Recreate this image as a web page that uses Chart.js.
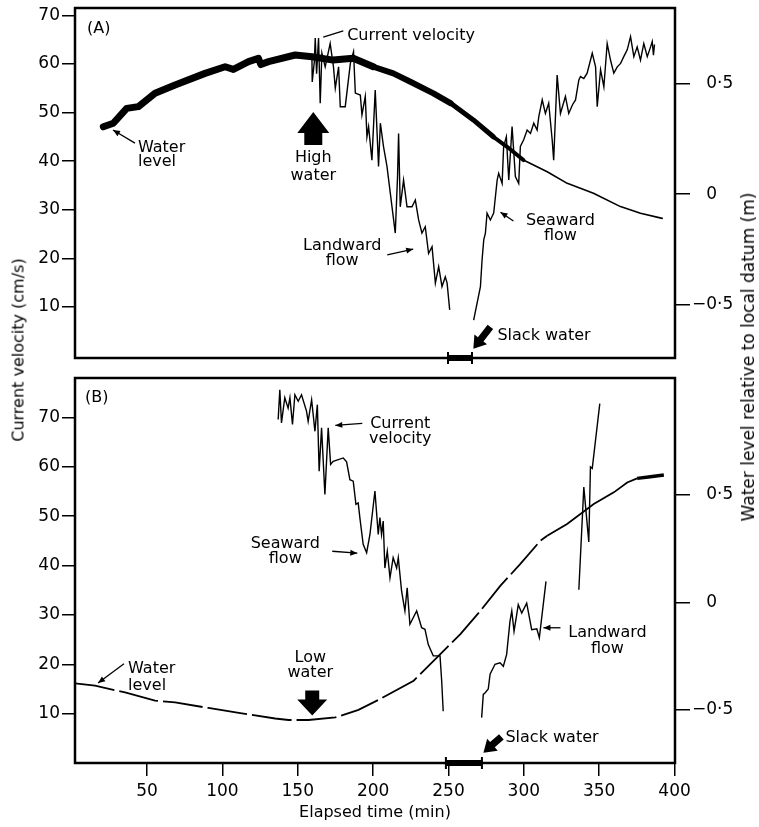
<!DOCTYPE html>
<html><head><meta charset="utf-8">
<script src="https://cdn.jsdelivr.net/npm/chart.js"></script>
<style>
html,body{margin:0;padding:0;background:#fff;}
#wrap{position:relative;width:759px;height:827px;overflow:hidden;font-family:"DejaVu Sans",sans-serif;color:#000;}
.pane{position:absolute;left:0;width:759px;}
.vt{position:absolute;white-space:nowrap;transform:translate(-50%,-50%) rotate(-90deg);}
</style></head><body>
<div id="wrap">
<div class="pane" style="top:0;height:370px"><canvas id="chartA"></canvas></div>
<div class="pane" style="top:368px;height:459px"><canvas id="chartB"></canvas></div>
<div class="vt" style="left:18px;top:350px;font-size:16px">Current velocity (cm/s)</div>
<div class="vt" style="left:748px;top:357px;font-size:17px">Water level relative to local datum (m)</div>
</div>
<script>
// ---------- DATA ----------
// Panel A: water level (m), thick trace
const levelA_t = [21.0,27.6,36.5,44.2,55.3,68.6,88.5,101.8,107.3,117.3,123.9,125.5,130.6,148.3,159.4,173.5,186.8,200.1,213.4,224.7,240.0,251.3,266.5,279.8,288.9,299.7,315.5,328.8,346.2,364.1,377.4,391.8];
const levelA_m = [0.304,0.320,0.387,0.395,0.455,0.493,0.545,0.575,0.563,0.598,0.613,0.585,0.598,0.628,0.620,0.605,0.613,0.575,0.545,0.507,0.455,0.411,0.335,0.259,0.214,0.154,0.101,0.049,0.004,-0.056,-0.086,-0.109];
// Panel A: current velocity (cm/s), landward flow
const velA_land_t = [159.4,159.6,161.0,161.6,162.5,163.8,164.9,166.0,168.2,171.5,173.7,174.9,177.1,178.2,181.5,184.9,187.0,188.2,191.5,192.6,194.8,195.9,197.0,199.2,201.4,203.6,204.8,206.9,209.2,211.4,214.7,216.2,216.9,218.0,220.2,222.5,225.8,228.0,230.2,232.4,234.6,236.8,239.1,241.3,243.5,245.7,247.9,249.1,250.8];
const velA_land_v = [61.5,56.3,60.5,65.3,58.0,65.3,51.9,62.2,59.4,64.2,59.4,55.0,59.4,51.2,51.2,60.1,62.5,54.0,53.6,49.5,53.3,45.0,47.1,40.2,54.6,38.9,47.8,43.0,38.9,33.4,25.2,36.8,45.7,30.6,36.1,30.6,30.6,32.0,27.9,25.2,26.5,21.0,22.4,14.9,18.3,14.2,16.2,14.9,9.4];
// Panel A: current velocity (cm/s), seaward flow
const velA_sea_t = [266.7,271.2,272.3,273.4,274.5,275.6,277.8,280.0,282.3,283.3,285.6,286.6,288.4,290.0,292.2,294.4,296.6,297.7,299.9,302.2,304.4,306.6,308.8,309.9,312.2,314.3,316.5,318.8,319.8,322.1,324.3,327.6,329.8,332.3,334.3,336.5,337.6,339.8,342.0,345.4,347.6,348.7,350.9,353.1,355.3,357.5,359.7,362.0,364.2,366.3,368.6,370.8,373.0,375.2,377.4,379.6,381.9,384.1,385.2,386.0,386.7];
const velA_sea_v = [7.3,14.2,19.7,23.8,25.2,29.3,27.9,29.3,36.1,37.5,35.4,43.0,45.0,36.1,47.1,36.8,35.4,43.0,44.4,46.4,45.7,47.8,46.4,49.1,52.6,49.8,51.9,44.4,40.2,57.7,49.8,53.3,49.8,51.6,52.6,56.7,57.4,57.0,58.1,62.2,59.4,51.2,58.8,55.3,64.2,60.8,58.1,59.4,60.1,61.5,62.9,65.6,61.5,63.5,60.8,64.2,61.5,63.5,64.6,61.8,64.0];
// Panel B: water level (m)
const levelB_t = [2.2,15.5,35.4,55.3,68.6,90.7,112.9,135.0,143.9,157.1,174.9,190.3,204.8,226.9,244.6,257.9,271.2,284.5,297.7,311.0,315.5,328.7,346.4,359.7,368.6,375.2,384.0,392.9];
const levelB_m = [-0.377,-0.387,-0.419,-0.457,-0.465,-0.491,-0.516,-0.540,-0.547,-0.547,-0.535,-0.500,-0.449,-0.364,-0.240,-0.147,-0.039,0.078,0.179,0.287,0.310,0.365,0.458,0.512,0.558,0.577,0.585,0.593];
// Panel B: current velocity, seaward flow
const velB_sea_t = [137.0,138.1,139.2,141.4,143.6,144.8,146.5,148.1,150.3,152.5,155.8,156.9,159.2,161.4,163.0,164.2,165.8,168.0,170.2,171.8,173.5,180.2,182.4,184.6,186.8,188.6,190.1,191.2,193.4,195.7,197.9,201.2,203.4,204.5,205.6,206.7,207.8,209.4,211.2,213.3,215.6,216.7,218.9,221.1,222.6,224.4,228.9,232.2,234.4,236.6,239.9,244.4,245.5,246.5];
const velB_sea_v = [69.6,75.6,68.9,74.0,71.9,74.0,68.6,74.6,73.3,74.6,71.3,69.2,73.6,67.2,72.6,59.1,67.9,54.4,67.9,60.5,61.1,61.8,61.0,57.4,57.1,52.4,52.7,49.7,44.3,42.6,46.3,55.1,46.3,49.7,46.3,49.0,39.5,42.9,37.5,41.6,39.5,41.6,34.8,30.8,35.5,28.1,30.8,27.4,27.1,24.0,21.7,21.7,16.6,10.5];
// Panel B: current velocity, landward flow (two records)
const velB_land1_t = [272.0,273.1,274.2,276.4,277.6,280.9,284.2,286.4,288.6,290.8,292.0,293.5,295.3,296.3,298.6,301.9,305.2,308.6,310.3,314.7];
const velB_land1_v = [9.2,13.9,14.2,15.0,18.0,20.0,20.3,19.6,22.0,28.7,30.8,26.7,30.1,32.1,30.4,32.4,27.0,27.2,25.4,36.8];
const velB_land2_t = [336.5,339.8,343.1,344.2,345.4,350.4];
const velB_land2_v = [35.1,55.9,44.8,60.0,59.7,72.8];
// Slack water intervals (min)
const slackA = [249.7, 265.6];
const slackB = [248.3, 272.2];
// Ticks
const xTicks = [50,100,150,200,250,300,350,400];
const leftTicks = [10,20,30,40,50,60,70];
const rightTicks = [-0.5, 0, 0.5];
const rightTickLabels = ['\u22120\u00B75', '\u2007\u20090', '\u2007\u20090\u00B75'];

// ---------- helpers ----------
const FONT = 'DejaVu Sans';
Chart.defaults.font.family = FONT;
Chart.defaults.color = '#000';
const pts = (ts, vs) => ts.map((t, i) => ({x: t, y: vs[i]}));
const X_MIN = 2.2, X_MAX = 400.3;

const framePlugin = {
  id: 'frame',
  afterDatasetsDraw(chart) {
    const {ctx, chartArea: a} = chart;
    ctx.save(); ctx.strokeStyle = '#000'; ctx.lineWidth = 2.5;
    ctx.strokeRect(a.left, a.top, a.right - a.left, a.bottom - a.top);
    ctx.restore();
  }
};

function makeNotes(items, slack) {
  return {
    id: 'notes',
    afterDatasetsDraw(chart) {
      const ctx = chart.ctx, xs = chart.scales.x, ys = chart.scales.yL, a = chart.chartArea;
      const P = (t, v) => [xs.getPixelForValue(t), ys.getPixelForValue(v)];
      ctx.save();
      ctx.fillStyle = '#000'; ctx.strokeStyle = '#000';
      ctx.font = '16px "' + FONT + '"';
      ctx.textBaseline = 'alphabetic';
      for (const it of items) {
        if (it.kind === 'text') {
          const [x, y] = P(it.t, it.v);
          ctx.textAlign = it.align || 'left';
          it.lines.forEach((s, i) => ctx.fillText(s, x, y + i * (it.gap || 15)));
        } else if (it.kind === 'line' || it.kind === 'leader') {
          const [x1, y1] = P(it.from[0], it.from[1]);
          const [x2, y2] = P(it.to[0], it.to[1]);
          ctx.lineWidth = 1.3;
          ctx.beginPath(); ctx.moveTo(x1, y1); ctx.lineTo(x2, y2); ctx.stroke();
          if (it.kind === 'leader') {
            const ang = Math.atan2(y2 - y1, x2 - x1), L = 7, W = 3;
            const c = Math.cos(ang), s = Math.sin(ang);
            ctx.beginPath(); ctx.moveTo(x2, y2);
            ctx.lineTo(x2 - L * c + W * s, y2 - L * s - W * c);
            ctx.lineTo(x2 - L * c - W * s, y2 - L * s + W * c);
            ctx.closePath(); ctx.fill();
          }
        } else if (it.kind === 'big') {
          const [x, y] = P(it.t, it.v);
          const d = it.dir === 'up' ? 1 : -1;
          ctx.beginPath();
          ctx.moveTo(x, y);
          ctx.lineTo(x - it.hw, y + d * it.hl);
          ctx.lineTo(x - it.sw, y + d * it.hl);
          ctx.lineTo(x - it.sw, y + d * (it.hl + it.sl));
          ctx.lineTo(x + it.sw, y + d * (it.hl + it.sl));
          ctx.lineTo(x + it.sw, y + d * it.hl);
          ctx.lineTo(x + it.hw, y + d * it.hl);
          ctx.closePath(); ctx.fill();
        } else if (it.kind === 'fat') {
          const [tx, ty] = P(it.from[0], it.from[1]);
          const [px, py] = P(it.to[0], it.to[1]);
          const len = Math.hypot(px - tx, py - ty);
          const ux = (px - tx) / len, uy = (py - ty) / len, nx = -uy, ny = ux;
          const hl = 12, hw = 8, sw = 3.5;
          const bx = px - ux * hl, by = py - uy * hl;
          ctx.beginPath();
          ctx.moveTo(px, py);
          ctx.lineTo(bx + nx * hw, by + ny * hw);
          ctx.lineTo(bx + nx * sw, by + ny * sw);
          ctx.lineTo(tx + nx * sw, ty + ny * sw);
          ctx.lineTo(tx - nx * sw, ty - ny * sw);
          ctx.lineTo(bx - nx * sw, by - ny * sw);
          ctx.lineTo(bx - nx * hw, by - ny * hw);
          ctx.closePath(); ctx.fill();
        }
      }
      // slack-water bar on the time axis
      const x1 = xs.getPixelForValue(slack[0]), x2 = xs.getPixelForValue(slack[1]);
      const yb = a.bottom;
      ctx.fillRect(x1, yb - 3, x2 - x1, 6);
      ctx.lineWidth = 2;
      ctx.beginPath();
      ctx.moveTo(x1, yb - 6); ctx.lineTo(x1, yb + 6);
      ctx.moveTo(x2, yb - 6); ctx.lineTo(x2, yb + 6);
      ctx.stroke();
      ctx.restore();
    }
  };
}

function yAxis(pos, min, max, values, labels) {
  return {
    type: 'linear', position: pos, min, max,
    afterBuildTicks: s => { s.ticks = values.map(v => ({value: v})); },
    afterFit: s => { s.width = pos === 'left' ? 75 : 84; s.paddingTop = 0; s.paddingBottom = 0; },
    ticks: {
      font: {family: FONT, size: 17}, color: '#000', padding: pos === 'left' ? 2 : 2,
      autoSkip: false,
      callback: (v, i) => labels ? labels[i] : String(v)
    },
    grid: {drawOnChartArea: false, drawTicks: true, tickLength: pos === 'left' ? 13 : 15, color: '#000', lineWidth: 1.5},
    border: {display: false}
  };
}

const lineDs = (data, axis, extra) => Object.assign({
  data, yAxisID: axis, borderColor: '#000', backgroundColor: '#000',
  borderWidth: 1.4, pointRadius: 0, tension: 0, fill: false
}, extra || {});

// ---------- PANEL A ----------
const notesA = [
  {kind: 'text', t: 10.2, v: 66.4, lines: ['(A)']},
  {kind: 'text', t: 182.8, v: 64.9, lines: ['Current velocity']},
  {kind: 'line', from: [166.9, 65.5], to: [180.2, 66.8]},
  {kind: 'text', t: 44.0, v: 41.9, lines: ['Water', 'level'], gap: 14.5},
  {kind: 'leader', from: [42.0, 43.7], to: [27.4, 46.4]},
  {kind: 'text', t: 160.3, v: 39.8, lines: ['High', 'water'], align: 'center', gap: 18},
  {kind: 'big', t: 160.3, v: 50.1, dir: 'up', hw: 16, hl: 21, sw: 9, sl: 12},
  {kind: 'text', t: 179.5, v: 21.7, lines: ['Landward', 'flow'], align: 'center', gap: 15},
  {kind: 'leader', from: [209.4, 20.7], to: [226.6, 21.9]},
  {kind: 'text', t: 324.3, v: 26.9, lines: ['Seaward', 'flow'], align: 'center', gap: 15},
  {kind: 'leader', from: [293.1, 27.7], to: [284.5, 29.5]},
  {kind: 'text', t: 282.5, v: 3.2, lines: ['Slack water']},
  {kind: 'fat', from: [277.8, 5.9], to: [266.5, 1.4]}
];
const bandWidth = x => x < 200 ? 7 : x < 245 ? 6 : x < 270 ? 5 : x < 289 ? 4 : 1.6;

new Chart(document.getElementById('chartA'), {
  type: 'line',
  data: {datasets: [
    lineDs(pts(levelA_t, levelA_m), 'yR', {borderWidth: 6, borderCapStyle: 'round', borderJoinStyle: 'round',
      segment: {borderWidth: c => bandWidth(c.p0.parsed.x)}}),
    lineDs(pts(velA_land_t, velA_land_v), 'yL'),
    lineDs(pts(velA_sea_t, velA_sea_v), 'yL')
  ]},
  options: {
    responsive: true, maintainAspectRatio: false, animation: false, devicePixelRatio: 1,
    layout: {padding: {top: 8, bottom: 12, left: 0, right: 0}},
    plugins: {legend: {display: false}, tooltip: {enabled: false}},
    scales: {
      x: {type: 'linear', min: X_MIN, max: X_MAX, display: false},
      yL: yAxis('left', -0.5, 71.5, leftTicks, null),
      yR: yAxis('right', -0.739, 0.840, rightTicks, rightTickLabels)
    }
  },
  plugins: [framePlugin, makeNotes(notesA, slackA)]
});

// ---------- PANEL B ----------
const notesB = [
  {kind: 'text', t: 8.8, v: 73.1, lines: ['(B)']},
  {kind: 'text', t: 218.0, v: 67.8, lines: ['Current', 'velocity'], align: 'center', gap: 15},
  {kind: 'leader', from: [192.8, 68.8], to: [174.9, 68.4]},
  {kind: 'text', t: 141.7, v: 43.5, lines: ['Seaward', 'flow'], align: 'center', gap: 15},
  {kind: 'leader', from: [172.9, 42.9], to: [189.5, 42.5]},
  {kind: 'text', t: 37.4, v: 18.3, lines: ['Water', 'level'], gap: 17},
  {kind: 'leader', from: [34.7, 20.1], to: [17.5, 16.2]},
  {kind: 'text', t: 158.3, v: 20.5, lines: ['Low', 'water'], align: 'center', gap: 15},
  {kind: 'big', t: 159.6, v: 9.6, dir: 'down', hw: 15, hl: 16, sw: 7, sl: 9},
  {kind: 'text', t: 355.5, v: 25.5, lines: ['Landward', 'flow'], align: 'center', gap: 16},
  {kind: 'leader', from: [324.3, 27.4], to: [313.0, 27.4]},
  {kind: 'text', t: 287.8, v: 4.3, lines: ['Slack water']},
  {kind: 'fat', from: [285.1, 5.3], to: [273.2, 2.1]}
];

new Chart(document.getElementById('chartB'), {
  type: 'line',
  data: {datasets: [
    lineDs(pts(levelB_t, levelB_m), 'yR', {borderWidth: 1.8, borderDash: [40, 5],
      segment: {
        borderDash: c => c.p0.parsed.x >= 315 ? [] : undefined,
        borderWidth: c => c.p0.parsed.x >= 372 ? 3.5 : undefined
      }}),
    lineDs(pts(velB_sea_t, velB_sea_v), 'yL'),
    lineDs(pts(velB_land1_t, velB_land1_v), 'yL'),
    lineDs(pts(velB_land2_t, velB_land2_v), 'yL')
  ]},
  options: {
    responsive: true, maintainAspectRatio: false, animation: false, devicePixelRatio: 1,
    layout: {padding: {top: 10, bottom: 0, left: 0, right: 0}},
    plugins: {legend: {display: false}, tooltip: {enabled: false}},
    scales: {
      x: {
        type: 'linear', position: 'bottom', min: X_MIN, max: X_MAX,
        afterBuildTicks: s => { s.ticks = xTicks.map(v => ({value: v})); },
        afterFit: s => { s.height = 64; s.paddingLeft = 0; s.paddingRight = 0; },
        ticks: {font: {family: FONT, size: 17}, color: '#000', padding: 5, autoSkip: false, maxRotation: 0,
          callback: v => String(v)},
        grid: {drawOnChartArea: false, drawTicks: true, tickLength: 13, color: '#000', lineWidth: 1.5},
        border: {display: false},
        title: {display: true, text: 'Elapsed time (min)', font: {family: FONT, size: 16}, color: '#000',
          padding: {top: 0, bottom: 5}}
      },
      yL: yAxis('left', 0, 78, leftTicks, null),
      yR: yAxis('right', -0.747, 1.044, rightTicks, rightTickLabels)
    }
  },
  plugins: [framePlugin, makeNotes(notesB, slackB)]
});
</script>
</body></html>
